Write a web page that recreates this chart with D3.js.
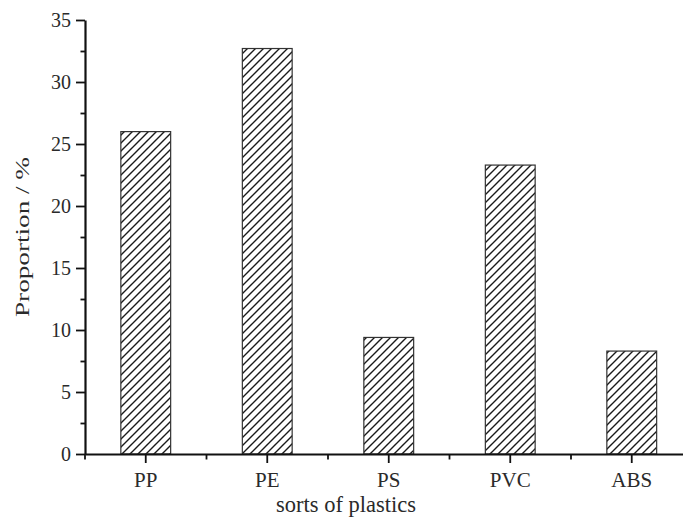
<!DOCTYPE html>
<html>
<head>
<meta charset="utf-8">
<script src="https://cdn.jsdelivr.net/npm/d3@7"></script>
<style>
  body { margin: 0; background: #fff; }
  svg { display: block; }
</style>
</head>
<body>
<svg id="chart"></svg>
<script>
// 数据
const categories = ['PP', 'PE', 'PS', 'PVC', 'ABS']
const proportions = [26.0, 32.7, 9.4, 23.3, 8.3]
const yTicks = [0, 5, 10, 15, 20, 25, 30, 35]
const yMinorTicks = [2.5, 7.5, 12.5, 17.5, 22.5, 27.5, 32.5]

const width = 683
const height = 519
const plotLeft = 85
const plotRight = 692.5
const plotTop = 20
const plotBottom = 454
const fontFamily = '"Liberation Serif", "DejaVu Serif", serif'
const textColor = '#2a2a2a'

const svg = d3.select('#chart').attr('width', width).attr('height', height)

// 斜线填充
const defs = svg.append('defs')
defs.append('pattern')
    .attr('id', 'hatch')
    .attr('patternUnits', 'userSpaceOnUse')
    .attr('width', 8)
    .attr('height', 8)
    .append('path')
    .attr('d', 'M-2,2 l4,-4 M0,8 l8,-8 M6,10 l4,-4')
    .attr('stroke', '#1a1a1a')
    .attr('stroke-width', 1.4)

const x = d3.scaleBand()
    .domain(categories)
    .range([plotLeft, plotRight])
    .paddingInner(0.59)
    .paddingOuter(0.295)

const y = d3.scaleLinear()
    .domain([0, 35])
    .range([plotBottom, plotTop])

// 柱子
svg.append('g').selectAll('rect').data(categories).enter()
    .append('rect')
    .attr('x', d => x(d))
    .attr('y', (d, i) => y(proportions[i]))
    .attr('width', x.bandwidth())
    .attr('height', (d, i) => y(0) - y(proportions[i]))
    .attr('fill', 'url(#hatch)')
    .attr('stroke', '#333')
    .attr('stroke-width', 1.2)

// y 轴
const yAxis = svg.append('g')
    .attr('transform', `translate(${plotLeft}, 0)`)
    .call(d3.axisLeft(y).tickValues(yTicks).tickSize(9).tickSizeOuter(0).tickPadding(5))
yAxis.select('.domain').attr('stroke-width', 2.2).attr('stroke', '#111')
yAxis.selectAll('.tick line').attr('stroke-width', 1.8).attr('stroke', '#111')
yAxis.selectAll('.tick text')
    .attr('font-size', 20)
    .attr('font-family', fontFamily)
    .attr('fill', textColor)

const yMinor = svg.append('g')
    .attr('transform', `translate(${plotLeft}, 0)`)
    .call(d3.axisLeft(y).tickValues(yMinorTicks).tickSize(4.5).tickFormat(''))
yMinor.select('.domain').remove()
yMinor.selectAll('.tick line').attr('stroke-width', 1.8).attr('stroke', '#111')

// x 轴
const xAxis = svg.append('g')
    .attr('transform', `translate(0, ${plotBottom})`)
    .call(d3.axisBottom(x).tickSize(9).tickSizeOuter(0).tickPadding(9))
xAxis.select('.domain').attr('stroke-width', 2.2).attr('stroke', '#111')
xAxis.selectAll('.tick line').attr('stroke-width', 1.8).attr('stroke', '#111')
xAxis.selectAll('.tick text')
    .attr('font-size', 21)
    .attr('font-family', fontFamily)
    .attr('fill', textColor)

// x 轴次刻度 (类别分界)
const boundaries = categories.map(d => x(d) + x.bandwidth() / 2 - x.step() / 2)
boundaries.push(x(categories[categories.length - 1]) + x.bandwidth() / 2 + x.step() / 2)
svg.append('g').selectAll('line').data(boundaries).enter()
    .append('line')
    .attr('x1', d => d).attr('x2', d => d)
    .attr('y1', plotBottom).attr('y2', plotBottom + 5.5)
    .attr('stroke', '#111')
    .attr('stroke-width', 1.8)

// 轴标题
svg.append('text')
    .attr('transform', `translate(29, ${(plotTop + plotBottom) / 2}) rotate(-90)`)
    .attr('text-anchor', 'middle')
    .attr('font-size', 19.5)
    .attr('font-family', fontFamily)
    .attr('fill', textColor)
    .attr('textLength', 160)
    .attr('lengthAdjust', 'spacingAndGlyphs')
    .text('Proportion / %')

svg.append('text')
    .attr('x', 346)
    .attr('y', 512)
    .attr('text-anchor', 'middle')
    .attr('font-size', 22.5)
    .attr('font-family', fontFamily)
    .attr('fill', textColor)
    .text('sorts of plastics')
</script>
</body>
</html>
